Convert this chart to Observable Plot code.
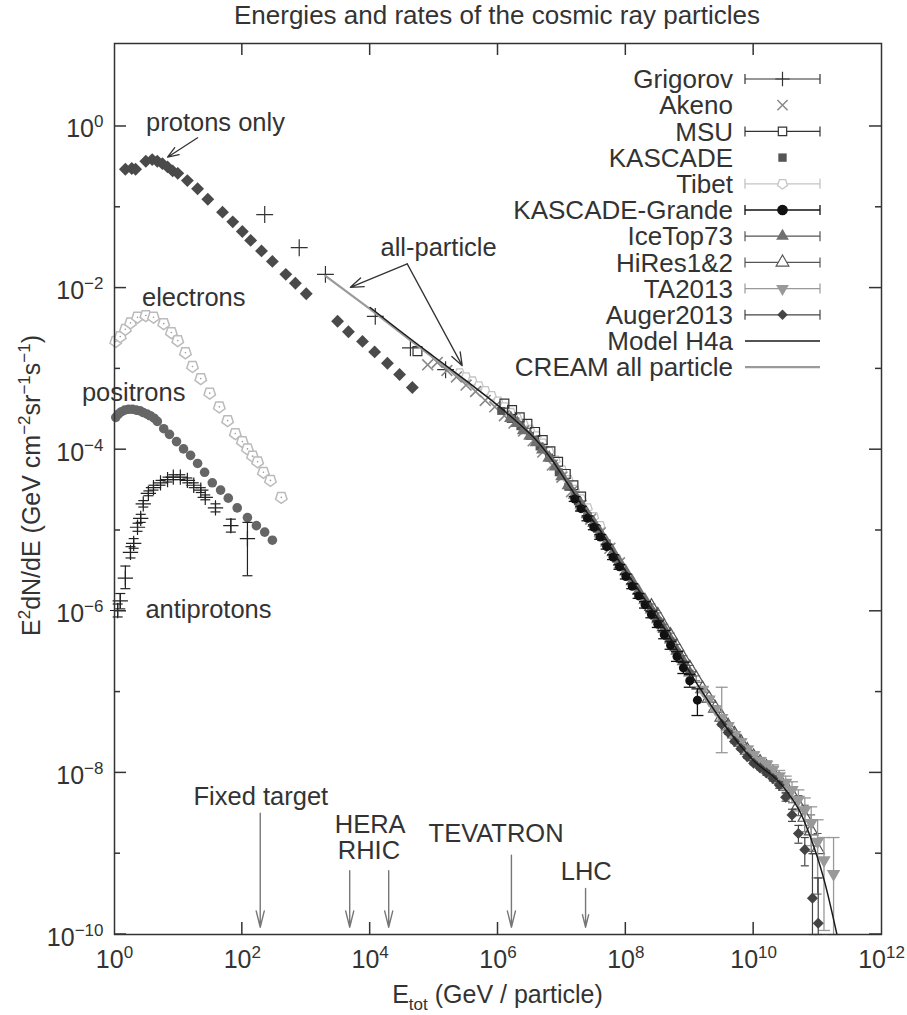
<!DOCTYPE html>
<html><head><meta charset="utf-8">
<script src="https://cdn.jsdelivr.net/npm/d3@7"></script>
<script src="https://cdn.jsdelivr.net/npm/@observablehq/plot@0.6"></script>
<style>
body{margin:0;background:#fff;}
#title{height:30px;line-height:30px;font:26px "Liberation Sans",Arial,sans-serif;color:#333;position:relative;width:907px;}
#title span{position:absolute;left:497px;transform:translateX(-50%);white-space:nowrap;}
</style></head><body>
<div id="title"><span>Energies and rates of the cosmic ray particles</span></div>
<div id="chart"></div>
<script>
// ---- data: [log10 E (GeV), log10 E^2 dN/dE, (log10 lower), (log10 upper)] ----
const protons = [[0.17,-0.53],[0.27,-0.52],[0.33,-0.53],[0.49,-0.43],[0.59,-0.41],[0.67,-0.43],[0.75,-0.46],[0.83,-0.50],[0.91,-0.55],[0.99,-0.58],[1.14,-0.67],[1.30,-0.77],[1.46,-0.90],[1.69,-1.06],[1.85,-1.18],[2.00,-1.30],[2.13,-1.41],[2.30,-1.54],[2.47,-1.67],[2.68,-1.83],[2.83,-1.94],[3.00,-2.07],[3.49,-2.41],[3.66,-2.54],[3.88,-2.66],[4.07,-2.79],[4.27,-2.93],[4.46,-3.07],[4.66,-3.23]];
const electrons = [[0.02,-2.66],[0.09,-2.60],[0.17,-2.51],[0.25,-2.43],[0.36,-2.36],[0.49,-2.34],[0.61,-2.36],[0.77,-2.44],[0.89,-2.55],[0.99,-2.65],[1.11,-2.80],[1.22,-2.97],[1.35,-3.12],[1.49,-3.30],[1.64,-3.47],[1.77,-3.64],[1.89,-3.80],[2.00,-3.90],[2.08,-3.99],[2.16,-4.08],[2.24,-4.15],[2.33,-4.28],[2.44,-4.38],[2.61,-4.59]];
const positrons = [[0.02,-3.60],[0.06,-3.56],[0.11,-3.53],[0.16,-3.51],[0.22,-3.50],[0.28,-3.50],[0.34,-3.51],[0.40,-3.52],[0.45,-3.54],[0.51,-3.56],[0.56,-3.58],[0.62,-3.61],[0.67,-3.65],[0.77,-3.74],[0.86,-3.81],[0.97,-3.90],[1.08,-3.99],[1.19,-4.07],[1.30,-4.17],[1.41,-4.28],[1.53,-4.41],[1.66,-4.50],[1.78,-4.60],[1.92,-4.72],[2.08,-4.84],[2.22,-4.94],[2.35,-5.02],[2.47,-5.12]];
const antiprotons = [[0.05,-5.99,-6.07,-5.91],[0.09,-5.87,-5.97,-5.78],[0.17,-5.59,-5.72,-5.44],[0.25,-5.27,-5.34,-5.20],[0.30,-5.16,-5.22,-5.10],[0.36,-4.96,-5.01,-4.91],[0.41,-4.85,-4.90,-4.80],[0.45,-4.67,-4.71,-4.63],[0.53,-4.54,-4.57,-4.51],[0.61,-4.47,-4.50,-4.44],[0.72,-4.41,-4.44,-4.38],[0.83,-4.37,-4.40,-4.34],[0.92,-4.34,-4.37,-4.31],[1.03,-4.34,-4.37,-4.31],[1.14,-4.38,-4.41,-4.35],[1.24,-4.44,-4.47,-4.41],[1.35,-4.50,-4.53,-4.47],[1.42,-4.59,-4.62,-4.56],[1.58,-4.72,-4.77,-4.67],[1.82,-4.94,-5.02,-4.86],[2.08,-5.10,-5.56,-4.90]];
const grigorov = [[2.35,-1.09],[2.89,-1.50],[3.30,-1.83],[4.08,-2.35],[4.63,-2.74],[5.18,-3.01]];
const akeno = [[4.90,-2.95],[5.05,-2.92],[5.20,-3.02],[5.35,-3.10],[5.50,-3.20],[5.65,-3.28],[5.80,-3.39],[5.95,-3.47],[6.10,-3.58],[6.25,-3.67],[6.40,-3.77],[6.55,-3.89],[6.70,-4.03],[6.85,-4.19],[7.00,-4.34],[7.15,-4.52],[7.30,-4.69],[7.45,-4.86],[7.60,-5.03],[7.75,-5.22],[7.90,-5.40]];
const msu = [[4.74,-2.78],[6.10,-3.43],[6.22,-3.51],[6.34,-3.60],[6.46,-3.68],[6.58,-3.78],[6.70,-3.88],[6.82,-4.02],[6.94,-4.15],[7.06,-4.30],[7.18,-4.44],[7.30,-4.58]];
const kascade = [[6.05,-3.52],[6.20,-3.62],[6.35,-3.71],[6.50,-3.83],[6.65,-3.96],[6.80,-4.10],[6.95,-4.28],[7.10,-4.46],[7.25,-4.64],[7.40,-4.82],[7.55,-4.98],[7.70,-5.16],[7.85,-5.35]];
const tibet = [[5.4,-3.05],[5.5,-3.10],[5.6,-3.15],[5.7,-3.21],[5.8,-3.27],[5.9,-3.33],[6.0,-3.40],[6.1,-3.47],[6.2,-3.54],[6.3,-3.61],[6.4,-3.68],[6.5,-3.75],[6.6,-3.83],[6.7,-3.92],[6.8,-4.02],[6.9,-4.13],[7.0,-4.25],[7.1,-4.37],[7.2,-4.49],[7.3,-4.61],[7.4,-4.72],[7.5,-4.83],[7.6,-4.94]];
const kascadeGrande = [[7.2,-4.61,-4.64,-4.58],[7.3,-4.73,-4.76,-4.70],[7.4,-4.85,-4.88,-4.82],[7.5,-4.96,-4.99,-4.93],[7.6,-5.08,-5.11,-5.05],[7.7,-5.20,-5.23,-5.17],[7.8,-5.33,-5.36,-5.30],[7.9,-5.45,-5.48,-5.42],[8.0,-5.57,-5.60,-5.54],[8.1,-5.69,-5.72,-5.66],[8.2,-5.81,-5.84,-5.78],[8.3,-5.92,-5.96,-5.88],[8.4,-6.04,-6.08,-6.00],[8.5,-6.16,-6.20,-6.12],[8.6,-6.29,-6.34,-6.24],[8.7,-6.42,-6.47,-6.37],[8.8,-6.56,-6.62,-6.50],[8.9,-6.70,-6.77,-6.63],[9.0,-6.86,-6.94,-6.78],[9.12,-7.10,-7.29,-6.96]];
const iceTop73 = [[6.2,-3.61],[6.3,-3.67],[6.4,-3.76],[6.5,-3.83],[6.6,-3.91],[6.7,-4.00],[6.8,-4.10],[6.9,-4.21],[7.0,-4.33],[7.1,-4.44],[7.2,-4.56],[7.3,-4.68],[7.4,-4.80],[7.5,-4.91],[7.6,-5.03],[7.7,-5.15],[7.8,-5.27],[7.9,-5.39],[8.0,-5.51],[8.1,-5.63],[8.2,-5.75],[8.3,-5.86],[8.4,-5.98],[8.5,-6.10],[8.6,-6.22],[8.7,-6.35],[8.8,-6.49],[8.9,-6.62],[9.0,-6.76]];
const hiRes = [[8.4,-5.94,-5.97,-5.91],[8.5,-6.05,-6.08,-6.02],[8.6,-6.19,-6.22,-6.16],[8.7,-6.30,-6.33,-6.27],[8.8,-6.44,-6.47,-6.41],[8.9,-6.58,-6.61,-6.55],[9.0,-6.70,-6.73,-6.67],[9.1,-6.83,-6.86,-6.80],[9.2,-6.96,-6.99,-6.93],[9.3,-7.08,-7.11,-7.05],[9.4,-7.20,-7.23,-7.17],[9.5,-7.31,-7.34,-7.28],[9.6,-7.42,-7.45,-7.39],[9.7,-7.52,-7.55,-7.49],[9.8,-7.62,-7.65,-7.59],[9.9,-7.72,-7.75,-7.69],[10.0,-7.80,-7.83,-7.77],[10.1,-7.87,-7.90,-7.84],[10.2,-7.93,-7.96,-7.90],[10.3,-8.00,-8.04,-7.96],[10.4,-8.08,-8.13,-8.03],[10.5,-8.17,-8.24,-8.10],[10.6,-8.27,-8.37,-8.18],[10.7,-8.40,-8.53,-8.28],[10.8,-8.55,-8.73,-8.40],[10.9,-8.72,-8.97,-8.52],[11.0,-8.95,-9.50,-8.75]];
const ta2013 = [[9.2,-6.97,-7.00,-6.94],[9.3,-7.09,-7.12,-7.06],[9.4,-7.21,-7.24,-7.18],[9.5,-7.32,-7.75,-6.94],[9.6,-7.42,-7.46,-7.38],[9.7,-7.53,-7.57,-7.49],[9.8,-7.62,-7.66,-7.58],[9.9,-7.71,-7.75,-7.67],[10.0,-7.78,-7.82,-7.74],[10.1,-7.85,-7.89,-7.81],[10.2,-7.90,-7.95,-7.85],[10.3,-7.96,-8.02,-7.90],[10.4,-8.04,-8.11,-7.97],[10.5,-8.12,-8.21,-8.04],[10.6,-8.21,-8.32,-8.11],[10.7,-8.33,-8.47,-8.21],[10.8,-8.46,-8.65,-8.31],[10.9,-8.62,-8.90,-8.42],[11.0,-8.85,-9.30,-8.58],[11.1,-9.08,-9.95,-8.80],[11.25,-9.25,-10.0,-8.80]];
const auger2013 = [[9.5,-7.40,-7.42,-7.38],[9.6,-7.50,-7.52,-7.48],[9.7,-7.61,-7.63,-7.59],[9.8,-7.70,-7.72,-7.68],[9.9,-7.80,-7.82,-7.78],[10.0,-7.88,-7.90,-7.86],[10.1,-7.94,-7.96,-7.92],[10.2,-8.00,-8.03,-7.97],[10.3,-8.07,-8.10,-8.04],[10.4,-8.15,-8.19,-8.11],[10.5,-8.30,-8.35,-8.25],[10.6,-8.52,-8.60,-8.45],[10.7,-8.75,-8.87,-8.65],[10.8,-8.95,-9.15,-8.80],[10.92,-9.55,-10.0,-9.0],[11.01,-9.86,-10.0,-9.3]];
const modelH4a = [[4.0,-2.24],[4.5,-2.55],[5.0,-2.85],[5.49,-3.14],[6.04,-3.48],[6.56,-3.85],[6.82,-4.10],[7.09,-4.42],[7.34,-4.72],[7.60,-5.00],[7.92,-5.41],[8.28,-5.83],[8.65,-6.27],[8.96,-6.70],[9.28,-7.10],[9.64,-7.51],[10.00,-7.85],[10.37,-8.09],[10.69,-8.43],[10.89,-8.80],[11.09,-9.29],[11.30,-9.99]];
const creamAll = [[3.30,-1.85],[4.0,-2.26],[4.6,-2.63],[5.2,-2.99],[5.57,-3.21]];
// annotations: [text, log10 E, log10 flux]
const labels = [["protons only",1.58,0.05],["electrons",1.24,-2.12],["positrons",0.30,-3.30],["antiprotons",1.47,-5.98],["all-particle",5.07,-1.50]];
const colliderLabels = [["Fixed target",2.29,-8.30],["HERA",4.0,-8.64],["RHIC",3.98,-8.97],["TEVATRON",5.97,-8.76],["LHC",7.38,-9.23]];
const pointerArrows = [[1.30,-0.14,0.83,-0.38],[4.58,-1.70,3.69,-1.99],[4.58,-1.70,5.44,-2.96]];
const colliderArrows = [[2.28,-8.50,2.28,-9.91],[3.68,-9.21,3.68,-9.91],[4.29,-9.21,4.29,-9.91],[6.21,-9.02,6.21,-9.91],[7.37,-9.43,7.37,-9.91]];
const xTickExp = [0,2,4,6,8,10,12];
const yTickExp = [-10,-8,-6,-4,-2,0];
const legendNames = ["Grigorov","Akeno","MSU","KASCADE","Tibet","KASCADE-Grande","IceTop73","HiRes1&2","TA2013","Auger2013","Model H4a","CREAM all particle"];

// ---- helpers ----
const FONT = '"Liberation Sans", Arial, Helvetica, sans-serif';
const P = a => a.map(d => ({E: 10 ** d[0], F: 10 ** d[1], lo: d.length > 2 ? 10 ** d[2] : null, hi: d.length > 3 ? 10 ** d[3] : null}));
const pentagon = {draw(ctx, size) { const r = Math.sqrt(size / Math.PI) * 1.1; for (let i = 0; i < 5; i++) { const a = Math.PI / 2 + i * 2 * Math.PI / 5; const x = r * Math.cos(a), y = r * Math.sin(a); if (i) ctx.lineTo(x, y); else ctx.moveTo(x, y); } ctx.closePath(); }};
const hbar = {draw(ctx, size) { const r = Math.sqrt(size / Math.PI); ctx.moveTo(-r, 0); ctx.lineTo(r, 0); }};
function errs(arr, color, w = 1, cap = 4) {
  const d = P(arr).filter(p => p.lo != null);
  return [
    Plot.ruleX(d, {x: "E", y1: "lo", y2: "hi", stroke: color, strokeWidth: w}),
    Plot.dot(d, {x: "E", y: "lo", symbol: hbar, r: cap, stroke: color, fill: "none", strokeWidth: w}),
    Plot.dot(d, {x: "E", y: "hi", symbol: hbar, r: cap, stroke: color, fill: "none", strokeWidth: w})
  ];
}
const lx = i => d => 10 ** d[i];

const plot = Plot.plot({
  width: 907, height: 985,
  marginLeft: 114, marginRight: 26, marginTop: 13, marginBottom: 81,
  x: {type: "log", domain: [1, 1e12]},
  y: {type: "log", domain: [1e-10, 10 ** 1.027]},
  style: {fontFamily: FONT, fontSize: "25px", color: "#333", background: "white", overflow: "visible"},
  marks: [
    Plot.axisX({ticks: xTickExp.map(e => 10 ** e), tickSize: 0, tickPadding: 16, tickFormat: d => "E" + Math.round(Math.log10(d)), label: null}),
    Plot.axisY({ticks: yTickExp.map(e => 10 ** e), tickSize: 0, tickPadding: 11, tickFormat: d => "E" + Math.round(Math.log10(d)), label: null}),
    // low-energy species
    Plot.dot(P(electrons), {x: "E", y: "F", symbol: pentagon, r: 5.5, stroke: "#bbb", fill: "white", strokeWidth: 1.5}),
    Plot.dot(P(electrons), {x: "E", y: "F", r: 0.8, fill: "#999"}),
    Plot.dot(P(positrons), {x: "E", y: "F", r: 4.8, fill: "#666"}),
    ...errs(antiprotons, "#222", 1.2, 5),
    Plot.dot(P(antiprotons), {x: "E", y: "F", symbol: "plus", r: 5, stroke: "#222", strokeWidth: 1.2}),
    Plot.dot(P(protons), {x: "E", y: "F", symbol: "diamond2", r: 5.8, fill: "#4a4a4a"}),
    // all-particle
    Plot.dot(P(grigorov), {x: "E", y: "F", symbol: "plus", r: 5.5, stroke: "#333", strokeWidth: 1.2}),
    Plot.dot(P(tibet), {x: "E", y: "F", symbol: pentagon, r: 4.5, stroke: "#c4c4c4", fill: "white", strokeWidth: 1.3}),
    Plot.dot(P(akeno), {x: "E", y: "F", symbol: "times", r: 5, stroke: "#888", strokeWidth: 1.6}),
    Plot.dot(P(msu), {x: "E", y: "F", symbol: "square", r: 5, stroke: "#333", fill: "none", strokeWidth: 1.2}),
    Plot.dot(P(kascade), {x: "E", y: "F", symbol: "square", r: 4.5, fill: "#555"}),
    Plot.dot(P(iceTop73), {x: "E", y: "F", symbol: "triangle", r: 5, fill: "#707070"}),
    ...errs(hiRes, "#555", 1, 4),
    Plot.dot(P(hiRes), {x: "E", y: "F", symbol: "triangle", r: 5, stroke: "#555", fill: "none", strokeWidth: 1.2}),
    ...errs(ta2013, "#999", 1.3, 6),
    Plot.dot(P(ta2013), {x: "E", y: "F", symbol: "triangle", rotate: 180, r: 5, fill: "#999"}),
    ...errs(auger2013, "#444", 1.2, 4),
    Plot.dot(P(auger2013), {x: "E", y: "F", symbol: "diamond2", r: 5, fill: "#444"}),
    ...errs(kascadeGrande, "#111", 1.3, 6),
    Plot.dot(P(kascadeGrande), {x: "E", y: "F", r: 4.5, fill: "#111"}),
    Plot.line(P(creamAll), {x: "E", y: "F", stroke: "#9a9a9a", strokeWidth: 2.2}),
    Plot.line(P(modelH4a), {x: "E", y: "F", stroke: "#1a1a1a", strokeWidth: 1.5, curve: "catmull-rom"}),
    // annotations
    Plot.text(labels, {x: lx(1), y: lx(2), text: d => d[0], fill: "#333", fontSize: 25.5}),
    Plot.text(colliderLabels, {x: lx(1), y: lx(2), text: d => d[0], fill: "#333", fontSize: 25.5}),
    Plot.arrow(pointerArrows, {x1: lx(0), y1: lx(1), x2: lx(2), y2: lx(3), stroke: "#333", strokeWidth: 1.3, headLength: 16, headAngle: 40}),
    Plot.arrow(colliderArrows, {x1: lx(0), y1: lx(1), x2: lx(2), y2: lx(3), stroke: "#777", strokeWidth: 1.4, headLength: 18, headAngle: 28}),
    Plot.frame({stroke: "#333", strokeWidth: 1.5})
  ]
});
document.getElementById("chart").appendChild(plot);

// ---- post-processing: superscript tick labels, inward ticks, axis titles, legend ----
const svg = d3.select(plot);
svg.selectAll('g[aria-label$="tick label"] text').each(function () {
  const t = d3.select(this); const s = t.text();
  if (!s.startsWith("E")) return;
  const e = s.slice(1).replace("-", "\u2212");
  t.text("10");
  t.append("tspan").attr("dy", -10).attr("font-size", 17).text(e);
});
svg.selectAll('g[aria-label="y-axis tick label"] text').attr("transform", function () { return (d3.select(this).attr("transform") || "") + " translate(0,3)"; });

const sx = plot.scale("x"), sy = plot.scale("y");
const L = sx.apply(1), R = sx.apply(1e12), B = sy.apply(1e-10), T = sy.apply(10 ** 1.027);
const tg = svg.append("g").attr("stroke", "#333").attr("stroke-width", 1.5);
for (let e = -10; e <= 0; e++) {
  const y = sy.apply(10 ** e), len = e % 2 === 0 ? 12 : 6;
  tg.append("line").attr("x1", L).attr("x2", L + len).attr("y1", y).attr("y2", y);
  tg.append("line").attr("x1", R - len).attr("x2", R).attr("y1", y).attr("y2", y);
}
for (let e = 2; e <= 10; e += 2) {
  const x = sx.apply(10 ** e);
  tg.append("line").attr("x1", x).attr("x2", x).attr("y1", B).attr("y2", B - 12);
  tg.append("line").attr("x1", x).attr("x2", x).attr("y1", T).attr("y2", T + 12);
}

// y-axis title (centred on the frame)
const yt = svg.append("text").attr("transform", `translate(40,${(T + B) / 2 - 3}) rotate(-90)`).attr("text-anchor", "middle")
  .attr("font-family", FONT).attr("font-size", 25).attr("fill", "#333");
const sup = (node, txt) => { node.append("tspan").attr("dy", -10).attr("font-size", 17).text(txt); };
yt.append("tspan").text("E"); sup(yt, "2");
yt.append("tspan").attr("dy", 10).text("dN/dE (GeV cm"); sup(yt, "\u22122");
yt.append("tspan").attr("dy", 10).text("sr"); sup(yt, "\u22121");
yt.append("tspan").attr("dy", 10).text("s"); sup(yt, "\u22121");
yt.append("tspan").attr("dy", 10).text(")");
// x-axis title
const xt = svg.append("text").attr("x", (L + R) / 2).attr("y", 973).attr("text-anchor", "middle")
  .attr("font-family", FONT).attr("font-size", 25).attr("fill", "#333");
xt.append("tspan").text("E");
xt.append("tspan").attr("dy", 7).attr("font-size", 17).text("tot");
xt.append("tspan").attr("dy", -7).text(" (GeV / particle)");

// legend
const lg = svg.append("g").attr("font-family", FONT).attr("font-size", 26);
const styles = [
  {c: "#333", bar: true, sym: d3.symbolPlus, fill: "none", w: 1.2},
  {c: "#888", bar: false, sym: d3.symbolTimes, fill: "none", w: 1.5},
  {c: "#333", bar: true, sym: d3.symbolSquare, fill: "white", w: 1.2},
  {c: "#555", bar: false, sym: d3.symbolSquare, fill: "#555", w: 0},
  {c: "#c4c4c4", bar: true, sym: pentagon, fill: "white", w: 1.3},
  {c: "#111", bar: true, sym: d3.symbolCircle, fill: "#111", w: 1.3},
  {c: "#555", bar: true, sym: d3.symbolTriangle, fill: "#707070", w: 1.2, sc: "none"},
  {c: "#555", bar: true, sym: d3.symbolTriangle, fill: "white", w: 1.2},
  {c: "#999", bar: true, sym: d3.symbolTriangle, fill: "#999", w: 1.2, rot: 180, sc: "none"},
  {c: "#444", bar: true, sym: d3.symbolDiamond2, fill: "#444", w: 1.2, sc: "none"},
  {c: "#1a1a1a", line: true, w: 1.5},
  {c: "#9a9a9a", line: true, w: 2.2}
];
legendNames.forEach((name, i) => {
  const y = 49 + i * 26.2;
  const s = styles[i];
  lg.append("text").attr("x", 733).attr("y", y).attr("dy", "0.35em").attr("text-anchor", "end").attr("fill", "#333").text(name);
  if (s.bar || s.line) {
    lg.append("line").attr("x1", 745).attr("x2", 820).attr("y1", y).attr("y2", y).attr("stroke", s.c).attr("stroke-width", s.w);
  }
  if (s.bar) {
    [745, 820].forEach(x => lg.append("line").attr("x1", x).attr("x2", x).attr("y1", y - 5).attr("y2", y + 5).attr("stroke", s.c).attr("stroke-width", s.w));
  }
  if (s.sym) {
    lg.append("path").attr("d", d3.symbol(s.sym, 70)())
      .attr("transform", `translate(782.5,${y})` + (s.rot ? ` rotate(${s.rot})` : ""))
      .attr("fill", s.fill).attr("stroke", s.sc || s.c).attr("stroke-width", s.w || 0);
  }
});
</script>
</body></html>
